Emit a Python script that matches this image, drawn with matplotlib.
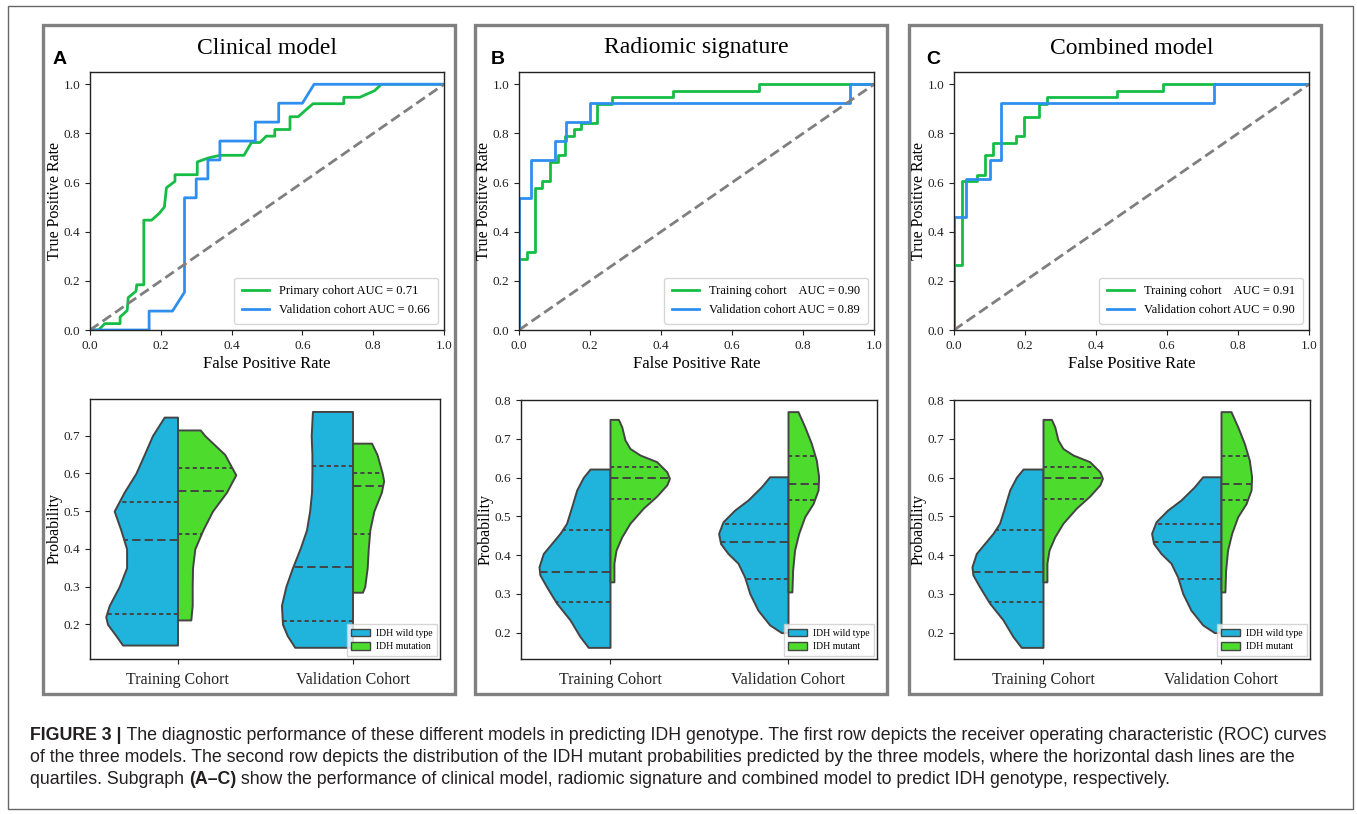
import numpy as np
import matplotlib
matplotlib.use('Agg')
import matplotlib.pyplot as plt
from matplotlib.patches import Rectangle, Patch
from matplotlib import font_manager as fm

# ---------------- data ----------------
# ROC curves
A_train_fpr = [0, 0.024, 0.042, 0.085, 0.085, 0.105, 0.108, 0.13, 0.132, 0.152, 0.152, 0.174, 0.195, 0.21, 0.216,
               0.226, 0.24, 0.24, 0.303, 0.303, 0.334, 0.367, 0.435, 0.456, 0.48, 0.498, 0.522, 0.522, 0.565, 0.565,
               0.588, 0.63, 0.717, 0.717, 0.762, 0.804, 0.823, 1.0]
A_train_tpr = [0, 0, 0.026, 0.026, 0.053, 0.079, 0.132, 0.158, 0.184, 0.184, 0.447, 0.447, 0.474, 0.5, 0.579,
               0.59, 0.605, 0.632, 0.632, 0.684, 0.70, 0.711, 0.711, 0.763, 0.763, 0.789, 0.789, 0.816, 0.816, 0.868,
               0.868, 0.921, 0.921, 0.947, 0.947, 0.974, 1.0, 1.0]
A_val_fpr = [0, 0.167, 0.167, 0.233, 0.267, 0.267, 0.30, 0.30, 0.333, 0.333, 0.367, 0.367, 0.467, 0.467, 0.533,
             0.533, 0.60, 0.633, 1.0]
A_val_tpr = [0, 0, 0.077, 0.077, 0.154, 0.538, 0.538, 0.615, 0.615, 0.692, 0.692, 0.769, 0.769, 0.846, 0.846,
             0.923, 0.923, 1.0, 1.0]

B_train_fpr = [0, 0, 0.022, 0.022, 0.044, 0.044, 0.066, 0.066, 0.088, 0.088, 0.11, 0.11, 0.13, 0.13, 0.154, 0.154,
               0.176, 0.176, 0.22, 0.22, 0.263, 0.263, 0.434, 0.434, 0.676, 0.676, 1.0]
B_train_tpr = [0, 0.289, 0.289, 0.316, 0.316, 0.579, 0.579, 0.605, 0.605, 0.684, 0.684, 0.711, 0.711, 0.789, 0.789,
               0.816, 0.816, 0.842, 0.842, 0.921, 0.921, 0.947, 0.947, 0.974, 0.974, 1.0, 1.0]
B_val_fpr = [0, 0, 0.033, 0.033, 0.10, 0.10, 0.133, 0.133, 0.20, 0.20, 0.933, 0.933, 1.0]
B_val_tpr = [0, 0.538, 0.538, 0.692, 0.692, 0.769, 0.769, 0.846, 0.846, 0.923, 0.923, 1.0, 1.0]

C_train_fpr = [0, 0, 0.022, 0.022, 0.066, 0.066, 0.088, 0.088, 0.11, 0.11, 0.176, 0.176, 0.196, 0.196, 0.24, 0.24,
               0.263, 0.263, 0.459, 0.459, 0.589, 0.589, 1.0]
C_train_tpr = [0, 0.263, 0.263, 0.605, 0.605, 0.632, 0.632, 0.711, 0.711, 0.763, 0.763, 0.789, 0.789, 0.868, 0.868,
               0.921, 0.921, 0.947, 0.947, 0.974, 0.974, 1.0, 1.0]
C_val_fpr = [0, 0, 0.035, 0.035, 0.10, 0.10, 0.133, 0.133, 0.733, 0.733, 1.0]
C_val_tpr = [0, 0.46, 0.46, 0.615, 0.615, 0.692, 0.692, 0.923, 0.923, 1.0, 1.0]

A_labels = ['Primary cohort AUC = 0.71', 'Validation cohort AUC = 0.66']
B_labels = ['Training cohort    AUC = 0.90', 'Validation cohort AUC = 0.89']
C_labels = ['Training cohort    AUC = 0.91', 'Validation cohort AUC = 0.90']

# Violin half profiles: probability levels and half-widths
A_tr_wt_y = [0.145, 0.17, 0.20, 0.22, 0.25, 0.30, 0.35, 0.40, 0.45, 0.50, 0.55, 0.60, 0.65, 0.70, 0.749]
A_tr_wt_w = [0.314, 0.352, 0.40, 0.41, 0.39, 0.333, 0.291, 0.291, 0.324, 0.362, 0.305, 0.238, 0.19, 0.143, 0.076]
A_tr_mu_y = [0.2115, 0.25, 0.30, 0.35, 0.40, 0.45, 0.50, 0.55, 0.596, 0.65, 0.70, 0.715]
A_tr_mu_w = [0.076, 0.084, 0.084, 0.086, 0.099, 0.145, 0.20, 0.28, 0.333, 0.27, 0.156, 0.13]
A_va_wt_y = [0.139, 0.17, 0.20, 0.25, 0.30, 0.35, 0.40, 0.45, 0.50, 0.55, 0.60, 0.65, 0.70, 0.764]
A_va_wt_w = [0.33, 0.373, 0.40, 0.406, 0.381, 0.343, 0.30, 0.263, 0.245, 0.234, 0.232, 0.232, 0.236, 0.229]
A_va_mu_y = [0.285, 0.30, 0.35, 0.40, 0.45, 0.50, 0.55, 0.58, 0.60, 0.65, 0.68]
A_va_mu_w = [0.057, 0.07, 0.084, 0.09, 0.099, 0.122, 0.165, 0.178, 0.17, 0.14, 0.109]

B_tr_wt_y = [0.162, 0.190, 0.233, 0.276, 0.318, 0.349, 0.370, 0.404, 0.430, 0.456, 0.482, 0.525, 0.568, 0.6005, 0.622]
B_tr_wt_w = [0.122, 0.169, 0.225, 0.30, 0.356, 0.394, 0.399, 0.375, 0.328, 0.281, 0.244, 0.215, 0.187, 0.15, 0.112]
B_tr_mu_y = [0.331, 0.379, 0.413, 0.447, 0.482, 0.521, 0.552, 0.581, 0.598, 0.615, 0.641, 0.658, 0.675, 0.697, 0.731, 0.750]
B_tr_mu_w = [0.022, 0.022, 0.034, 0.066, 0.112, 0.187, 0.262, 0.319, 0.334, 0.319, 0.262, 0.169, 0.112, 0.084, 0.066, 0.047]
B_va_wt_y = [0.200, 0.220, 0.258, 0.301, 0.344, 0.379, 0.404, 0.430, 0.456, 0.486, 0.516, 0.542, 0.576, 0.602]
B_va_wt_w = [0.037, 0.103, 0.169, 0.215, 0.244, 0.281, 0.337, 0.379, 0.390, 0.365, 0.300, 0.225, 0.150, 0.103]
B_va_mu_y = [0.305, 0.361, 0.413, 0.456, 0.499, 0.533, 0.568, 0.602, 0.645, 0.688, 0.731, 0.770]
B_va_mu_w = [0.022, 0.026, 0.037, 0.060, 0.094, 0.141, 0.169, 0.172, 0.159, 0.131, 0.094, 0.056]

# quartiles (25 %, median, 75 %)
A_tr_wt_q = [0.227, 0.4235, 0.525]
A_tr_mu_q = [0.44, 0.553, 0.614]
A_va_wt_q = [0.208, 0.353, 0.62]
A_va_mu_q = [0.44, 0.567, 0.601]
B_tr_wt_q = [0.279, 0.357, 0.466]
B_tr_mu_q = [0.5455, 0.599, 0.628]
B_va_wt_q = [0.338, 0.435, 0.481]
B_va_mu_q = [0.542, 0.583, 0.656]
# the combined model panel shows the same distributions as the radiomic panel
C_tr_wt_y, C_tr_wt_w, C_tr_mu_y, C_tr_mu_w = B_tr_wt_y, B_tr_wt_w, B_tr_mu_y, B_tr_mu_w
C_va_wt_y, C_va_wt_w, C_va_mu_y, C_va_mu_w = B_va_wt_y, B_va_wt_w, B_va_mu_y, B_va_mu_w
C_tr_wt_q, C_tr_mu_q, C_va_wt_q, C_va_mu_q = B_tr_wt_q, B_tr_mu_q, B_va_wt_q, B_va_mu_q

cohorts = ['Training Cohort', 'Validation Cohort']
titles = ['Clinical model', 'Radiomic signature', 'Combined model']
letters = ['A', 'B', 'C']
A_violin_labels = ['IDH wild type', 'IDH mutation']
B_violin_labels = ['IDH wild type', 'IDH mutant']

# ---------------- style ----------------
W, H = 1357, 814
plt.rcParams['font.family'] = ['Liberation Serif', 'DejaVu Serif']
plt.rcParams['lines.scale_dashes'] = False
GREEN_ROC = '#16bd45'
BLUE_ROC = '#2f8ff0'
DIAG = '#7f7f7f'
VBLUE = '#20b4dc'
VGREEN = '#4ddc2e'
EDGE = '#444444'
FRAME = '#808080'

fig = plt.figure(figsize=(W / 100, H / 100), dpi=100)
bg = fig.add_axes([0, 0, 1, 1])
bg.set_xlim(0, W)
bg.set_ylim(H, 0)
bg.axis('off')


def px_axes(l, t, r, b):
    return fig.add_axes([l / W, 1 - b / H, (r - l) / W, (b - t) / H])


# outer frame and panel frames
bg.add_patch(Rectangle((8, 6), 1345, 803, fill=False, edgecolor='#666666', lw=1.0))
panel_boxes = [(43, 25, 455, 694), (475, 25, 887, 694), (909, 25, 1321, 694)]
for (l, t, r, b) in panel_boxes:
    bg.add_patch(Rectangle((l, t), r - l, b - t, fill=False, edgecolor=FRAME, lw=2.4))

roc_boxes = [(90, 72, 444, 330), (519, 72, 874, 330), (954, 72, 1309, 330)]
vio_boxes = [(90, 399, 440, 659), (521, 400, 877, 659), (954, 400, 1310, 659)]
vio_ylims = [(0.108, 0.797), (0.132, 0.80), (0.132, 0.80)]
vio_yticks = [[0.2, 0.3, 0.4, 0.5, 0.6, 0.7], [0.2, 0.3, 0.4, 0.5, 0.6, 0.7, 0.8], [0.2, 0.3, 0.4, 0.5, 0.6, 0.7, 0.8]]
letter_pos = [(60, 59), (498, 59), (933, 60)]

roc_data = [
    ((A_train_fpr, A_train_tpr), (A_val_fpr, A_val_tpr), A_labels),
    ((B_train_fpr, B_train_tpr), (B_val_fpr, B_val_tpr), B_labels),
    ((C_train_fpr, C_train_tpr), (C_val_fpr, C_val_tpr), C_labels),
]
vio_data = [
    ((A_tr_wt_y, A_tr_wt_w, A_tr_wt_q), (A_tr_mu_y, A_tr_mu_w, A_tr_mu_q),
     (A_va_wt_y, A_va_wt_w, A_va_wt_q), (A_va_mu_y, A_va_mu_w, A_va_mu_q), A_violin_labels),
    ((B_tr_wt_y, B_tr_wt_w, B_tr_wt_q), (B_tr_mu_y, B_tr_mu_w, B_tr_mu_q),
     (B_va_wt_y, B_va_wt_w, B_va_wt_q), (B_va_mu_y, B_va_mu_w, B_va_mu_q), B_violin_labels),
    ((C_tr_wt_y, C_tr_wt_w, C_tr_wt_q), (C_tr_mu_y, C_tr_mu_w, C_tr_mu_q),
     (C_va_wt_y, C_va_wt_w, C_va_wt_q), (C_va_mu_y, C_va_mu_w, C_va_mu_q), B_violin_labels),
]


def style_axes(ax):
    for s in ax.spines.values():
        s.set_color('#222222')
        s.set_linewidth(1.0)
    ax.tick_params(direction='out', length=3.5, width=0.8, labelsize=9.5, colors='#222222')


def half_violin(ax, c, ys, ws, qs, side, color):
    ys = np.asarray(ys, float)
    ws = np.asarray(ws, float)
    if side < 0:
        ax.fill_betweenx(ys, c - ws, c, facecolor=color, edgecolor=EDGE, lw=1.4, zorder=2)
    else:
        ax.fill_betweenx(ys, c, c + ws, facecolor=color, edgecolor=EDGE, lw=1.4, zorder=2)
    for i, q in enumerate(qs):
        w = np.interp(q, ys, ws)
        dashes = (6, 3) if i == 1 else (3, 2.3)
        ax.plot([c, c + side * w], [q, q], color=EDGE, lw=1.4, dashes=dashes, zorder=3)


for k in range(3):
    # ---- ROC ----
    ax = px_axes(*roc_boxes[k])
    (tr, va, labs) = roc_data[k]
    ax.plot(tr[0], tr[1], color=GREEN_ROC, lw=2.0, label=labs[0])
    ax.plot(va[0], va[1], color=BLUE_ROC, lw=2.0, label=labs[1])
    ax.plot([0, 1], [0, 1], ls='--', color=DIAG, lw=2.0, dashes=(7.5, 3.5))
    ax.set_xlim(0, 1)
    ax.set_ylim(0, 1.05)
    ax.set_xticks([0, 0.2, 0.4, 0.6, 0.8, 1.0])
    ax.set_yticks([0, 0.2, 0.4, 0.6, 0.8, 1.0])
    ax.set_xticklabels(['0.0', '0.2', '0.4', '0.6', '0.8', '1.0'])
    ax.set_yticklabels(['0.0', '0.2', '0.4', '0.6', '0.8', '1.0'])
    style_axes(ax)
    ax.set_xlabel('False Positive Rate', fontsize=12, labelpad=3)
    ax.set_ylabel('True Positive Rate', fontsize=11.5, labelpad=0.5)
    ax.legend(loc='lower right', fontsize=9, handlelength=2.2, borderpad=0.6, labelspacing=0.55,
              frameon=True, fancybox=True, edgecolor='#cccccc')
    l, t, r, b = roc_boxes[k]
    bg.text((l + r) / 2, 48, titles[k], fontsize=17, ha='center', va='center')
    bg.text(letter_pos[k][0], letter_pos[k][1], letters[k], fontsize=14, fontweight='bold',
            family=['Liberation Sans', 'DejaVu Sans'], ha='center', va='center')

    # ---- violins ----
    ax = px_axes(*vio_boxes[k])
    trw, trm, vaw, vam, vlabs = vio_data[k]
    half_violin(ax, 0, *trw, -1, VBLUE)
    half_violin(ax, 0, *trm, 1, VGREEN)
    half_violin(ax, 1, *vaw, -1, VBLUE)
    half_violin(ax, 1, *vam, 1, VGREEN)
    ax.set_xlim(-0.5, 1.5)
    ax.set_ylim(*vio_ylims[k])
    ax.set_xticks([0, 1])
    ax.set_xticklabels(cohorts, fontsize=11.5)
    ax.set_yticks(vio_yticks[k])
    ax.set_yticklabels(['%.1f' % v for v in vio_yticks[k]])
    style_axes(ax)
    ax.tick_params(axis='x', labelsize=11.5, pad=6)
    ax.set_ylabel('Probability', fontsize=11.5, labelpad=1)
    handles = [Patch(facecolor=VBLUE, edgecolor=EDGE, lw=1.0), Patch(facecolor=VGREEN, edgecolor=EDGE, lw=1.0)]
    ax.legend(handles, vlabs, loc='lower right', fontsize=7, handlelength=1.9, handleheight=0.8,
              handletextpad=0.6, borderpad=0.45, labelspacing=0.45, borderaxespad=0.35,
              edgecolor='#cccccc', fancybox=False)

# ---------------- caption ----------------
names = {f.name for f in fm.fontManager.ttflist}
if 'Liberation Sans Narrow' in names:
    CAP = ['Liberation Sans Narrow', 'Liberation Sans', 'DejaVu Sans']
    stretch = 'normal'
else:
    CAP = ['Liberation Sans', 'DejaVu Sans']
    stretch = 'normal'
CAPSIZE = 12.0

cap_texts = []


def chain(segments, x, y):
    prev = None
    first = None
    for txt, bold in segments:
        fw = 'bold' if bold else 'normal'
        if prev is None:
            prev = bg.text(x, y, txt, fontsize=CAPSIZE, fontweight=fw, family=CAP, ha='left', va='center',
                           color='#231f20', fontstretch=stretch)
            first = prev
        else:
            prev = bg.annotate(txt, xy=(1, 0.5), xycoords=prev, fontsize=CAPSIZE, fontweight=fw, family=CAP,
                               ha='left', va='center', color='#231f20', annotation_clip=False,
                               fontstretch=stretch)
        cap_texts.append(prev)
    return first, prev


l1 = chain([('FIGURE 3 |', True),
            (' The diagnostic performance of these different models in predicting IDH genotype. The first row depicts '
             'the receiver operating characteristic (ROC) curves', False)], 30, 735)
chain([('of the three models. The second row depicts the distribution of the IDH mutant probabilities predicted '
        'by the three models, where the horizontal dash lines are the', False)], 30, 757)
chain([('quartiles. Subgraph ', False), ('(A\u2013C)', True),
       (' show the performance of clinical model, radiomic signature and combined model to predict IDH genotype, '
        'respectively.', False)], 30, 779)

# scale caption so that its first line spans the same width as in the reference
fig.canvas.draw()
r = fig.canvas.get_renderer()
x0 = l1[0].get_window_extent(r).x0
x1 = l1[1].get_window_extent(r).x1
scale = 1300.0 / (x1 - x0)
for t in cap_texts:
    t.set_fontsize(CAPSIZE * scale)

fig.savefig('out.png', dpi=100)
